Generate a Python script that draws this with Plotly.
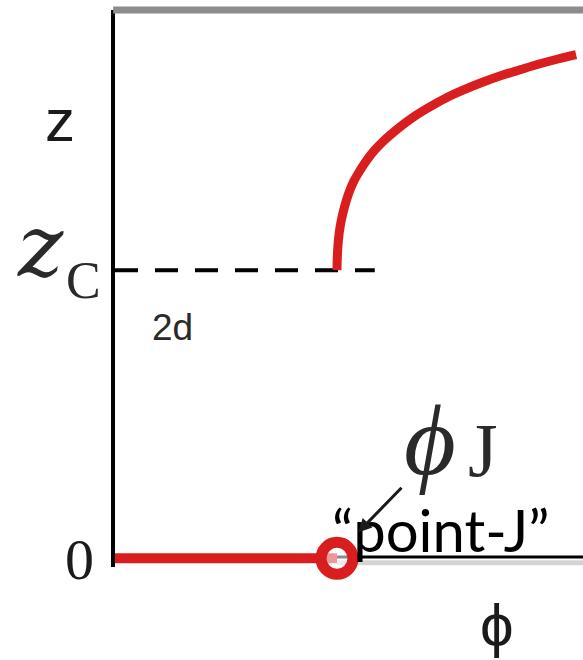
import plotly.graph_objects as go

# Contact number z versus packing fraction phi near the jamming point (2d)
phi_J = 1.0          # jamming point (phi in units of phi_J)
z_c = 4.0            # isostatic contact number, z_c = 2d for d = 2

# below jamming: no contacts
phi_below = [0.0, 1.0]
z_below = [0.0, 0.0]

# above jamming: z rises steeply from z_c
phi_above = [1.0, 1.001, 1.004, 1.010, 1.020, 1.034, 1.052, 1.075, 1.103,
             1.135, 1.171, 1.212, 1.257, 1.306, 1.356, 1.42, 1.491, 1.57,
             1.658, 1.74, 1.824, 1.91, 1.995, 2.077]
z_above = [4.0, 4.15, 4.33, 4.52, 4.70, 4.88, 5.06, 5.23, 5.38,
           5.53, 5.67, 5.80, 5.92, 6.04, 6.15, 6.27, 6.39, 6.50,
           6.61, 6.70, 6.78, 6.86, 6.93, 6.99]

# dashed guide at z_c
phi_guide = [0.0, 1.17]
z_guide = [z_c, z_c]

x_range = [0.0, 2.108]
y_range = [-0.12, 7.61]

RED = "#d81e1e"
INK = "#1b1b1b"

fig = go.Figure()

# phi axis drawn at z = 0 (right of the jamming point), with a faint shadow
fig.add_shape(type="line", xref="x", yref="y", x0=phi_J, x1=x_range[1],
              y0=-0.06, y1=-0.06, line=dict(color="#d4d4d4", width=5),
              layer="below")
fig.add_shape(type="line", xref="x", yref="y", x0=0, x1=x_range[1],
              y0=0.02, y1=0.02, line=dict(color="black", width=3),
              layer="below")
# grey frame line on top
fig.add_shape(type="line", xref="paper", yref="paper", x0=-0.004, x1=1,
              y0=1.0, y1=1.0, line=dict(color="#8c8c8c", width=7))

fig.add_trace(go.Scatter(
    x=phi_guide, y=z_guide, mode="lines",
    line=dict(color="black", width=4, dash="23px,17px"),
    cliponaxis=False, hoverinfo="skip"))

fig.add_trace(go.Scatter(
    x=phi_below, y=z_below, mode="lines",
    line=dict(color=RED, width=10),
    cliponaxis=False, hoverinfo="skip"))

fig.add_trace(go.Scatter(
    x=phi_above, y=z_above, mode="lines",
    line=dict(color=RED, width=9, shape="spline", smoothing=1.0),
    cliponaxis=False, hoverinfo="skip"))

fig.add_trace(go.Scatter(
    x=[phi_J], y=[0.0], mode="markers",
    marker=dict(size=32, color="rgba(255,255,255,0.55)",
                line=dict(color=RED, width=11)),
    cliponaxis=False, hoverinfo="skip"))


def label(text, phi, z, family, size, color=INK, **kw):
    # place text at (phi, z), allowing positions outside the axis ranges
    px = (phi - x_range[0]) / (x_range[1] - x_range[0])
    py = (z - y_range[0]) / (y_range[1] - y_range[0])
    fig.add_annotation(text=text, x=px, y=py, xref="paper", yref="paper",
                       showarrow=False, xanchor="center", yanchor="middle",
                       font=dict(family=family, size=size, color=color), **kw)


label("z", -0.248, 6.08, "Liberation Sans", 60)
label("<i>z</i>", -0.335, 4.34, "DejaVu Serif", 86, color="#2a2a2a")
label("C", -0.144, 3.85, "Liberation Serif", 52, color="#2a2a2a")
label("2d", 0.257, 3.21, "Liberation Sans", 37, color="#2a2a2a")
label("0", -0.162, -0.02, "Liberation Serif", 58)
label("<i>ϕ</i>", 1.419, 1.64, "Liberation Serif", 100, color="#2a2a2a")
label("J", 1.658, 1.51, "Liberation Serif", 76, color="#2a2a2a")
label("“point-J”", 1.464, 0.40, "Lato", 58, color="black")
label("ϕ", 1.72, -0.93, "Liberation Sans", 60)

# arrow pointing at the jamming point
fig.add_annotation(x=1.095, y=0.36, ax=1.297, ay=1.0, xref="x", yref="y",
                   axref="x", ayref="y", text="", showarrow=True,
                   arrowhead=2, arrowsize=0.9, arrowwidth=3, arrowcolor=INK)

fig.update_xaxes(range=x_range, showline=False,
                 showgrid=False, zeroline=False, showticklabels=False,
                 ticks="")
fig.update_yaxes(range=y_range, showline=True, linecolor="black", linewidth=4,
                 showgrid=False, zeroline=False, showticklabels=False,
                 ticks="", layer="below traces")

fig.update_layout(
    width=583, height=660,
    margin=dict(l=115, r=0, t=10, b=93),
    paper_bgcolor="white", plot_bgcolor="white",
    showlegend=False,
)

fig.write_html("out.html")
